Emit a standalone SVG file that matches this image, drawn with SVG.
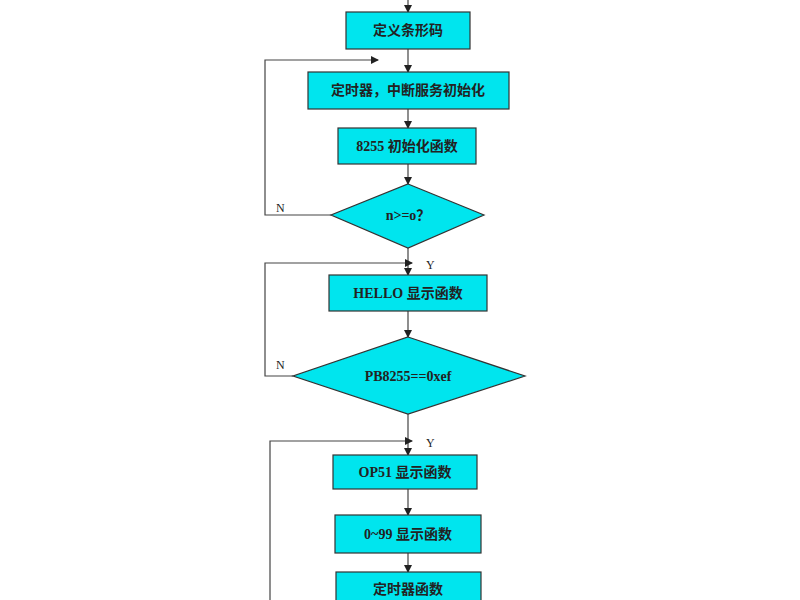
<svg xmlns="http://www.w3.org/2000/svg" width="800" height="600" viewBox="0 0 800 600">
<style>
.n{fill:#00e5ee;stroke:#333;stroke-width:1.2}
.t{font-family:"Liberation Serif","Noto Sans CJK SC",serif;font-weight:bold;font-size:14px;text-anchor:middle;fill:#222}
.l{font-family:"Liberation Serif",serif;font-size:12px;fill:#222}
.c{fill:none;stroke:#444;stroke-width:1.2;marker-end:url(#a)}
.p{fill:none;stroke:#444;stroke-width:1.2}
</style>
<defs><marker id="a" markerWidth="8" markerHeight="8" refX="7" refY="4" orient="auto" markerUnits="userSpaceOnUse"><path d="M0,0L8,4L0,8z" fill="#222"/></marker></defs>
<rect width="800" height="600" fill="#fff"/>
<g id="connectors">
<path class="c" d="M408,0V12"/>
<path class="c" d="M408,49V72"/>
<path class="c" d="M408,109V128"/>
<path class="c" d="M408,164V184"/>
<path class="c" d="M408,248V275"/>
<path class="c" d="M408,311V337"/>
<path class="c" d="M408,414V455"/>
<path class="c" d="M408,489V515"/>
<path class="c" d="M408,553V572"/>
<path class="c" d="M331,215H265V60H378"/>
<path class="c" d="M293,376H265V263H412"/>
<path class="c" d="M270,600V441H412"/>
<text class="l" x="276" y="212">N</text>
<text class="l" x="426" y="269">Y</text>
<text class="l" x="276" y="369">N</text>
<text class="l" x="426" y="447">Y</text>
</g>
<g id="n1"><rect class="n" x="346" y="12" width="124" height="37"/><text class="t" x="408" y="35">定义条形码</text></g>
<g id="n2"><rect class="n" x="308" y="72" width="201" height="37"/><text class="t" x="408" y="95">定时器，中断服务初始化</text></g>
<g id="n3"><rect class="n" x="338" y="128" width="138" height="36"/><text class="t" x="407" y="151">8255 初始化函数</text></g>
<g id="n4"><polygon class="n" points="408,184 484,215 408,248 331,215"/><text class="t" x="408" y="220">n&gt;=o？</text></g>
<g id="n5"><rect class="n" x="329" y="275" width="158" height="36"/><text class="t" x="408" y="298">HELLO 显示函数</text></g>
<g id="n6"><polygon class="n" points="408,337 525,376 408,414 293,376"/><text class="t" x="408" y="381">PB8255==0xef</text></g>
<g id="n7"><rect class="n" x="333" y="455" width="144" height="34"/><text class="t" x="405" y="477">OP51 显示函数</text></g>
<g id="n8"><rect class="n" x="335" y="515" width="146" height="38"/><text class="t" x="408" y="539">0~99 显示函数</text></g>
<g id="n9"><rect class="n" x="336" y="572" width="145" height="40"/><text class="t" x="408" y="594">定时器函数</text></g>
</svg>
